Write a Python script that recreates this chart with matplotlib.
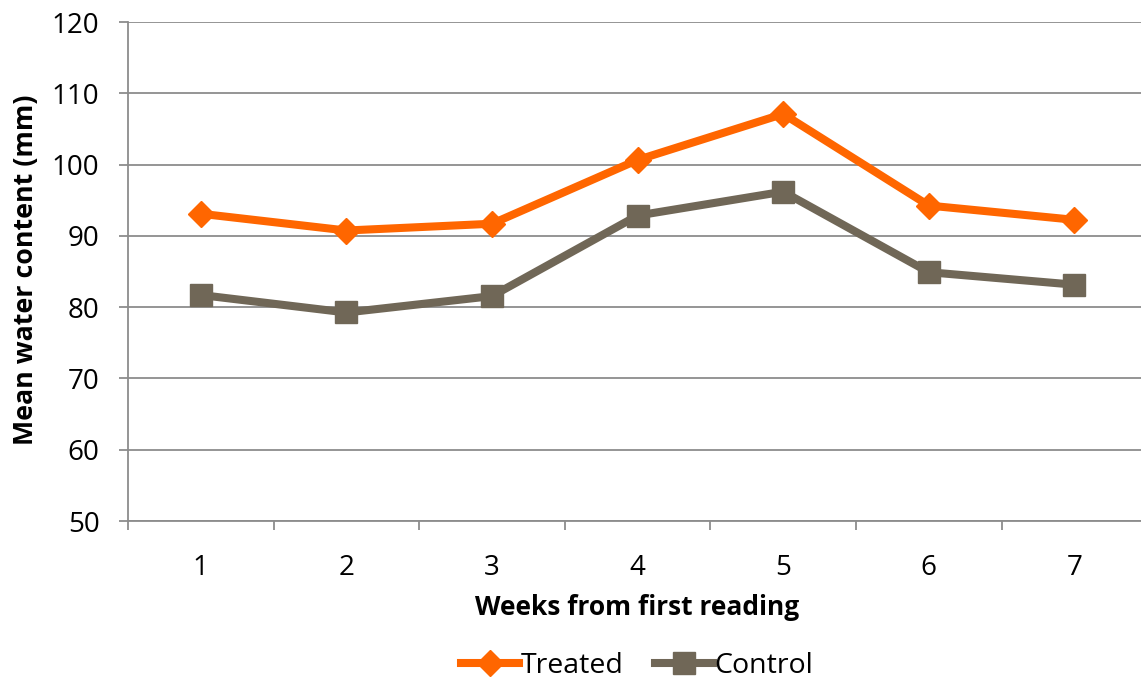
import matplotlib
matplotlib.use("Agg")
import matplotlib.pyplot as plt

weeks = ["1", "2", "3", "4", "5", "6", "7"]
treated = [93.1, 90.75, 91.7, 100.65, 107.1, 94.25, 92.25]
control = [81.7, 79.25, 81.55, 92.85, 96.2, 84.9, 83.15]
y_ticks = [50, 60, 70, 80, 90, 100, 110, 120]

ORANGE = "#FF6600"
TAUPE = "#706757"
GRID = "#8C8C8C"

plt.rcParams["font.family"] = ["Open Sans", "DejaVu Sans"]

W, H = 1141, 681
fig = plt.figure(figsize=(W / 100, H / 100), dpi=100)
left, top, bottom = 128, 22, 521
step = 145.6
right = left + step * len(weeks)
ax = fig.add_axes([left / W, 1 - bottom / H, (right - left) / W, (bottom - top) / H])

x = list(range(len(weeks)))
ax.plot(x, treated, color=ORANGE, lw=5.8, marker="D", ms=13, mec=ORANGE,
        mfc=ORANGE, label="Treated", zorder=4, solid_joinstyle="round")
ax.plot(x, control, color=TAUPE, lw=5.8, marker="s", ms=16, mec=TAUPE,
        mfc=TAUPE, label="Control", zorder=3, solid_joinstyle="round")

ax.set_xlim(-0.5, len(weeks) - 0.5)
ax.set_ylim(50, 120)
ax.set_yticks(y_ticks)
ax.set_xticks(x)
ax.set_xticklabels(weeks)
ax.set_xticks([i - 0.5 for i in range(len(weeks) + 1)], minor=True)

ax.grid(axis="y", color=GRID, lw=1.3)
ax.set_axisbelow(True)
for s in ["top", "right"]:
    ax.spines[s].set_visible(False)
for s in ["left", "bottom"]:
    ax.spines[s].set_color(GRID)
    ax.spines[s].set_linewidth(1.3)

ax.tick_params(axis="y", length=6.5, width=1.3, color=GRID, labelsize=20, pad=14)
ax.tick_params(axis="x", which="major", length=0, labelsize=20, pad=24)
ax.tick_params(axis="x", which="minor", length=6.5, width=1.3, color=GRID)

ax.set_xlabel("Weeks from first reading", fontsize=19, fontweight="bold")
ax.set_ylabel("Mean water content (mm)", fontsize=19.3, fontweight="bold")
ax.xaxis.set_label_coords((637 - left) / (right - left), -(594 - bottom) / (bottom - top))
ax.yaxis.set_label_coords(-(128 - 39) / (right - left), (bottom - 270) / (bottom - top))

fig.legend(loc="center", bbox_to_anchor=(637 / W, 1 - 666 / H), ncol=2, frameon=False,
           fontsize=20.5, handlelength=2.05, handletextpad=0.05, columnspacing=1.1)

fig.savefig("out.png", dpi=100, facecolor="white")
